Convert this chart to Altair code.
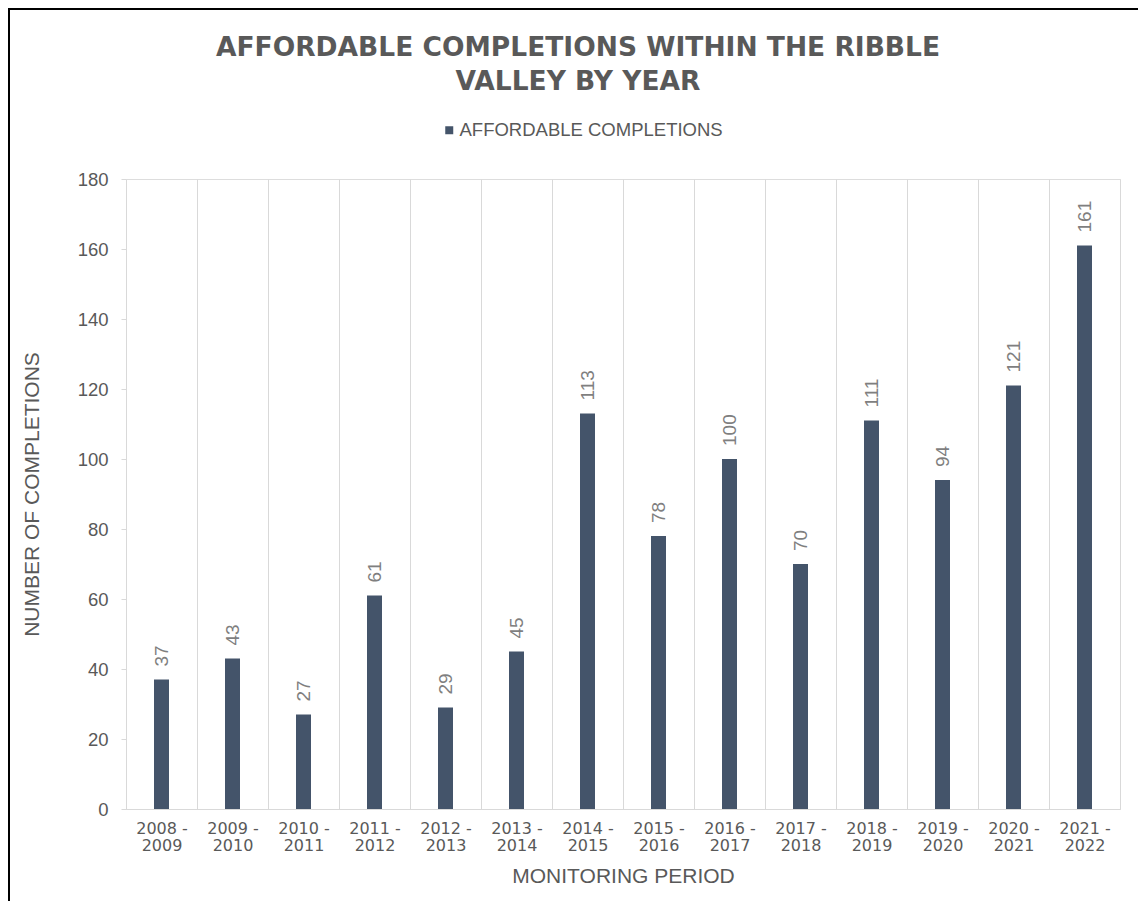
import altair as alt
import pandas as pd

periods = ["2008 - 2009", "2009 - 2010", "2010 - 2011", "2011 - 2012", "2012 - 2013",
           "2013 - 2014", "2014 - 2015", "2015 - 2016", "2016 - 2017", "2017 - 2018",
           "2018 - 2019", "2019 - 2020", "2020 - 2021", "2021 - 2022"]
completions = [37, 43, 27, 61, 29, 45, 113, 78, 100, 70, 111, 94, 121, 161]
series_name = "AFFORDABLE COMPLETIONS"
y_ticks = [0, 20, 40, 60, 80, 100, 120, 140, 160, 180]

df = pd.DataFrame({
    "period": periods,
    "value": completions,
    "series": [series_name] * len(periods),
})

W, H = 994, 630
GREY = "#595959"
GRID = "#d9d9d9"
FONT = "Liberation Sans"

x_enc = alt.X(
    "period:N", sort=periods,
    scale=alt.Scale(paddingInner=0, paddingOuter=0),
    axis=alt.Axis(
        title="MONITORING PERIOD", titleFont=FONT, titleFontSize=21, titleFontWeight="normal",
        titleColor=GREY, titleX=W / 2, titleY=67, titleBaseline="middle", titleAlign="center",
        labelAngle=0, labelFont="DejaVu Sans", labelFontSize=16, labelColor=GREY,
        labelPadding=11, labelLineHeight=17, labelBaseline="top",
        labelExpr="datum.label ? [split(datum.label, ' - ')[0] + ' -', split(datum.label, ' - ')[1]] : ''",
        ticks=False, tickBand="extent", grid=True, gridColor=GRID, gridWidth=1,
        domain=True, domainColor=GRID, domainWidth=1,
    ),
)

y_enc = alt.Y(
    "value:Q",
    scale=alt.Scale(domain=[0, 180], nice=False),
    axis=alt.Axis(
        values=y_ticks, title="NUMBER OF COMPLETIONS", titleFont=FONT, titleFontSize=21,
        titleFontWeight="normal", titleColor=GREY, titleAngle=270, titleX=-94, titleY=H / 2,
        titleBaseline="middle", titleAlign="center",
        labelFont=FONT, labelFontSize=18.5, labelColor=GREY, labelPadding=13,
        ticks=True, tickColor=GRID, tickSize=5, domain=False, grid=False,
    ),
)

base = alt.Chart(df)

bars = base.mark_bar(size=15).encode(
    x=x_enc,
    y=y_enc,
    color=alt.Color(
        "series:N",
        scale=alt.Scale(range=["#44546A"]),
        legend=alt.Legend(
            title=None, orient="none", legendX=314, legendY=-58, direction="horizontal",
            symbolType="square", symbolSize=64, symbolStrokeWidth=0, labelLimit=500,
            labelFont=FONT, labelFontSize=18.5, labelColor=GREY, labelOffset=1, padding=0,
        ),
    ),
)

labels = base.mark_text(
    angle=270, align="left", baseline="middle", dx=13,
    font=FONT, fontSize=19, color="#7f7f7f",
).encode(
    x=alt.X("period:N", sort=periods),
    y=alt.Y("value:Q"),
    text=alt.Text("value:Q"),
)

border_top = base.mark_rule(color="black", strokeWidth=2).encode(
    x=alt.value(-118), x2=alt.value(W + 18), y=alt.value(-170),
)
border_left = base.mark_rule(color="black", strokeWidth=2).encode(
    x=alt.value(-117), y=alt.value(-171), y2=alt.value(H + 92),
)

chart = alt.layer(bars, labels, border_top, border_left).properties(
    width=W,
    height=H,
    padding={"left": 118, "top": 171, "right": 18, "bottom": 92},
    autosize=alt.AutoSizeParams(type="none"),
    title=alt.TitleParams(
        text=["AFFORDABLE COMPLETIONS WITHIN THE RIBBLE", "VALLEY BY YEAR"],
        font="DejaVu Sans", fontSize=26.5, fontWeight="bold", color=GREY,
        lineHeight=34, anchor="middle", dx=-45, offset=-88,
    ),
).configure_view(stroke=None).configure(background="white")

chart.save("out.html", embed_options={"renderer": "svg", "actions": False})
